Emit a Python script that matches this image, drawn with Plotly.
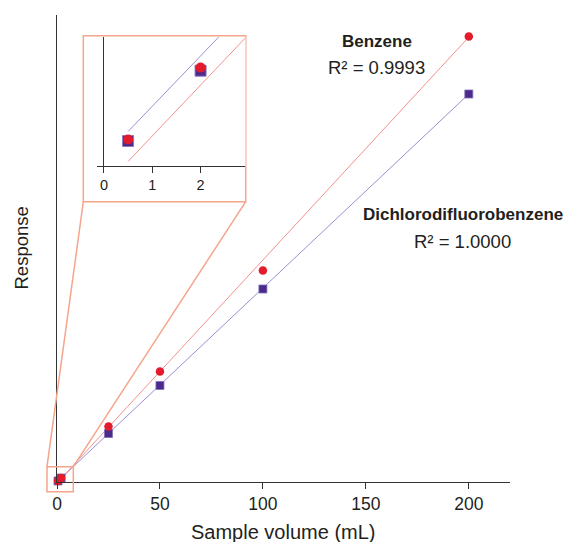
import numpy as np
import plotly.graph_objects as go

# ---- data (response in arbitrary units) ----
volume_ml = [0.5, 2, 25, 50, 100, 200]
benzene_response = [1.1, 4.1, 55.5, 110.5, 211.5, 445.5]
dcdfb_response = [1.04, 3.97, 48.5, 96.5, 193.0, 388.0]

# fitted calibration lines (slope, intercept)
benzene_fit = (2.23, -1.0)
dcdfb_fit = (1.94, 0.0)
# lines as drawn in the zoomed inset
benzene_fit_inset = (2.12, -0.87)
dcdfb_fit_inset = (2.10, 0.386)

inset_volume = volume_ml[:2]
inset_benzene = benzene_response[:2]
inset_dcdfb = dcdfb_response[:2]

x_ticks = [0, 50, 100, 150, 200]
inset_ticks = [0, 1, 2]

labels = ["Benzene", "Dichlorodifluorobenzene"]
r2_labels = ["R² = 0.9993", "R² = 1.0000"]

# ---- styles ----
RED = "#e31b2c"
RED_LINE = "#f2918f"
PURPLE = "#4b2a8c"
PURPLE_LINE = "#9a8fd2"
BOX = "#f5a58c"
TXT = "#231f20"
FONT = "Liberation Sans"

X_RANGE = [0, 220]
Y_RANGE = [0, 467]
INSET_X_RANGE = [-0.15, 2.93]
INSET_Y_RANGE = [0, 5.375]


def line_xy(fit, x0, x1):
    xs = np.array([x0, x1], dtype=float)
    return xs, fit[0] * xs + fit[1]


fig = go.Figure()

# main chart
for fit, col in [(dcdfb_fit, PURPLE_LINE), (benzene_fit, RED_LINE)]:
    xs, ys = line_xy(fit, min(volume_ml), max(volume_ml))
    fig.add_trace(go.Scatter(x=xs, y=ys, mode="lines", line=dict(color=col, width=1),
                             hoverinfo="skip", showlegend=False))
fig.add_trace(go.Scatter(x=volume_ml, y=dcdfb_response, mode="markers", cliponaxis=False,
                         marker=dict(symbol="square", size=8, color=PURPLE,
                                     line=dict(color="#7d70b8", width=0.8)),
                         showlegend=False))
fig.add_trace(go.Scatter(x=volume_ml, y=benzene_response, mode="markers", cliponaxis=False,
                         marker=dict(symbol="circle", size=8.5, color=RED, line=dict(width=0)),
                         showlegend=False))

# inset
for fit, col in [(dcdfb_fit_inset, PURPLE_LINE), (benzene_fit_inset, RED_LINE)]:
    xs, ys = line_xy(fit, min(inset_volume), INSET_X_RANGE[1])
    fig.add_trace(go.Scatter(x=xs, y=ys, mode="lines", line=dict(color=col, width=1),
                             xaxis="x2", yaxis="y2", hoverinfo="skip", showlegend=False))
fig.add_trace(go.Scatter(x=inset_volume, y=inset_dcdfb, mode="markers", xaxis="x2", yaxis="y2",
                         marker=dict(symbol="square", size=11, color=PURPLE,
                                     line=dict(color="#8a7cc4", width=1)),
                         cliponaxis=False, showlegend=False))
fig.add_trace(go.Scatter(x=inset_volume, y=inset_benzene, mode="markers", xaxis="x2", yaxis="y2",
                         marker=dict(symbol="circle", size=10, color=RED, line=dict(width=0)),
                         cliponaxis=False, showlegend=False))

# geometry of the figure (paper fractions)
inset_x_dom = [0.0876, 0.4161]
inset_y_dom = [0.6767, 0.9529]
inset_box = dict(x0=0.0581, x1=0.4166, y0=0.6002, y1=0.9557)
small_box = dict(x0=-0.0221, x1=0.036, y0=-0.0208, y1=0.0328)

shapes = [
    dict(type="rect", xref="paper", yref="paper", layer="below",
         line=dict(color=BOX, width=1.5), fillcolor="white", **inset_box),
    dict(type="rect", xref="paper", yref="paper", layer="above",
         line=dict(color=BOX, width=1.5), fillcolor="rgba(0,0,0,0)", **small_box),
    dict(type="line", xref="paper", yref="paper", layer="above",
         x0=small_box["x0"], y0=small_box["y1"], x1=inset_box["x0"], y1=inset_box["y0"],
         line=dict(color=BOX, width=1.5)),
    dict(type="line", xref="paper", yref="paper", layer="above",
         x0=small_box["x1"], y0=small_box["y1"], x1=inset_box["x1"], y1=inset_box["y0"],
         line=dict(color=BOX, width=1.5)),
]

annotations = [
    dict(text="<b>%s</b>" % labels[0], x=200, y=Y_RANGE[1], xref="x", yref="y",
         xshift=-92, yshift=-26, showarrow=False, font=dict(size=17, color=TXT, family=FONT)),
    dict(text=r2_labels[0], x=200, y=Y_RANGE[1], xref="x", yref="y",
         xshift=-92, yshift=-52, showarrow=False, font=dict(size=18.5, color=TXT, family=FONT)),
    dict(text="<b>%s</b>" % labels[1], x=200, y=Y_RANGE[1], xref="x", yref="y",
         xshift=-6, yshift=-199, showarrow=False, font=dict(size=17, color=TXT, family=FONT)),
    dict(text=r2_labels[1], x=200, y=Y_RANGE[1], xref="x", yref="y",
         xshift=-6, yshift=-226, showarrow=False, font=dict(size=18.5, color=TXT, family=FONT)),
    # axis titles
    dict(text="Sample volume (mL)", x=0.5, y=0, xref="paper", yref="paper",
         yanchor="middle", yshift=-50, showarrow=False, font=dict(size=20, color=TXT, family=FONT)),
    dict(text="Response", x=0, y=0.5, xref="paper", yref="paper", textangle=-90,
         xanchor="center", xshift=-36, showarrow=False, font=dict(size=18.5, color=TXT, family=FONT)),
]

fig.update_layout(
    width=564, height=542,
    margin=dict(l=57, r=54, t=15, b=60, pad=0),
    paper_bgcolor="white", plot_bgcolor="white",
    font=dict(family=FONT, color=TXT),
    xaxis=dict(range=X_RANGE, showline=True, linecolor="#333", linewidth=1,
               ticks="outside", ticklen=6, tickcolor="#333", tickvals=x_ticks,
               tickfont=dict(size=17.5, color=TXT), showgrid=False, zeroline=False,
               ticklabelstandoff=0),
    yaxis=dict(range=Y_RANGE, showline=True, linecolor="#333", linewidth=1,
               showticklabels=False, ticks="", showgrid=False, zeroline=False),
    xaxis2=dict(domain=inset_x_dom, anchor="y2", range=INSET_X_RANGE, showline=True,
                linecolor="#333", linewidth=1, ticks="outside", ticklen=6, tickcolor="#333",
                tickvals=inset_ticks, tickfont=dict(size=14.5, color=TXT), showgrid=False,
                zeroline=True, zerolinecolor="#333", zerolinewidth=1),
    yaxis2=dict(domain=inset_y_dom, anchor="x2", range=INSET_Y_RANGE, showline=False,
                showticklabels=False, ticks="", showgrid=False, zeroline=False),
    shapes=shapes,
    annotations=annotations,
)

fig.write_html("out.html")
